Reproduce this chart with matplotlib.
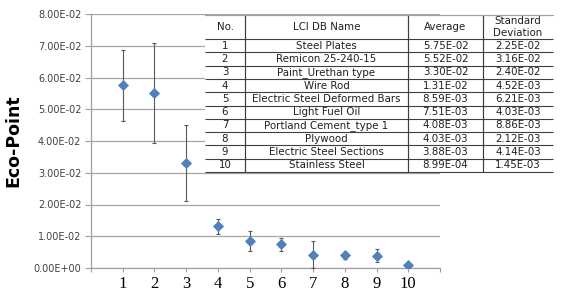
import matplotlib
matplotlib.use("Agg")
import matplotlib.pyplot as plt
import numpy as np

nos = list(range(1, 11))
names = ["Steel Plates", "Remicon 25-240-15", "Paint_Urethan type", "Wire Rod",
         "Electric Steel Deformed Bars", "Light Fuel Oil", "Portland Cement_type 1",
         "Plywood", "Electric Steel Sections", "Stainless Steel"]
averages = [5.75e-2, 5.52e-2, 3.30e-2, 1.31e-2, 8.59e-3, 7.51e-3, 4.08e-3, 4.03e-3, 3.88e-3, 8.99e-4]
stdevs = [2.25e-2, 3.16e-2, 2.40e-2, 4.52e-3, 6.21e-3, 4.03e-3, 8.86e-3, 2.12e-3, 4.14e-3, 1.45e-3]
headers = ["No.", "LCI DB Name", "Average", "Standard\nDeviation"]
yticks = [0, 0.01, 0.02, 0.03, 0.04, 0.05, 0.06, 0.07, 0.08]
ytick_labels = ["0.00E+00", "1.00E-02", "2.00E-02", "3.00E-02", "4.00E-02",
                "5.00E-02", "6.00E-02", "7.00E-02", "8.00E-02"]

W, H = 563, 293
fig = plt.figure(figsize=(W / 100, H / 100), dpi=100)
ax = fig.add_axes([91 / W, 1 - 268 / H, (440 - 91) / W, (268 - 14) / H])

x = np.array(nos)
avg = np.array(averages)
half = np.array(stdevs) / 2
lower = np.minimum(half, avg)
ax.errorbar(x, avg, yerr=[lower, half], fmt="none", ecolor="#595959",
            elinewidth=0.8, capsize=1.5, capthick=0.8, zorder=3)
ax.scatter(x, avg, marker="D", s=32, color="#4F81BD", zorder=4, linewidths=0)

ax.set_xlim(0, 11)
ax.set_ylim(0, 0.08)
ax.set_yticks(yticks)
ax.set_yticklabels(ytick_labels, fontsize=7, color="#404040", family="DejaVu Sans")
ax.set_xticks(range(0, 12))
ax.set_xticklabels([""] + [str(n) for n in nos] + [""], fontsize=12,
                   family="Liberation Serif")
ax.tick_params(axis="y", length=4, color="#A0A0A0", pad=3)
ax.tick_params(axis="x", length=3, color="#A0A0A0", pad=3)
ax.grid(axis="y", color="#A6A6A6", linewidth=0.9)
ax.set_axisbelow(True)
for s in ["top", "right"]:
    ax.spines[s].set_visible(False)
for s in ["left", "bottom"]:
    ax.spines[s].set_color("#A0A0A0")
    ax.spines[s].set_linewidth(0.9)
ax.set_ylabel("Eco-Point", fontsize=12.5, fontweight="bold", labelpad=6)
ax.yaxis.set_label_coords(-(91 - 22) / (440 - 91), 0.5)

# table
tx0, tx1, ty0, ty1 = 205, 553, 15, 172
tax = fig.add_axes([tx0 / W, 1 - ty1 / H, (tx1 - tx0) / W, (ty1 - ty0) / H])
tax.set_xticks([])
tax.set_yticks([])
for s in tax.spines.values():
    s.set_visible(False)
tax.patch.set_facecolor("white")
cell_text = [[str(n), nm, f"{a:.2E}", f"{s:.2E}"] for n, nm, a, s in zip(nos, names, averages, stdevs)]
tbl = tax.table(cellText=[headers] + cell_text, cellLoc="center", bbox=[0, 0, 1, 1])
tbl.auto_set_font_size(False)
colw = [40, 163, 75, 70]
for (r, c), cell in tbl.get_celld().items():
    cell.set_width(colw[c])
    cell.set_height(24 if r == 0 else 13.3)
    cell.set_edgecolor("#404040")
    cell.set_linewidth(0.8)
    cell.set_facecolor("none")
    t = cell.get_text()
    t.set_fontsize(7.4)
    t.set_color("#202020")
    if c == 0:
        cell.visible_edges = "BR"
    elif c == 3:
        cell.visible_edges = "BL"
    else:
        cell.visible_edges = "BLR"
tax.plot([0, 1], [1, 1], color="#A0A0A0", linewidth=0.9, transform=tax.transAxes, clip_on=False)

fig.savefig("out.png", dpi=100)
